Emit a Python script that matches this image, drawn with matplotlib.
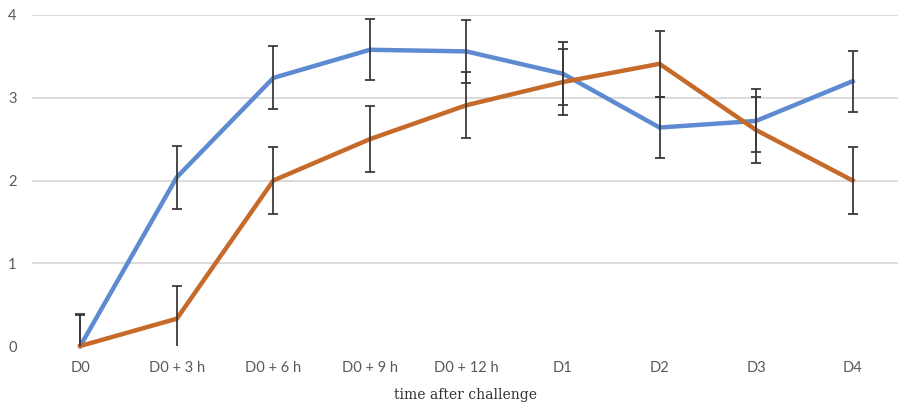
import matplotlib
matplotlib.use("Agg")
import matplotlib.pyplot as plt
import numpy as np

categories = ["D0", "D0 + 3 h", "D0 + 6 h", "D0 + 9 h", "D0 + 12 h", "D1", "D2", "D3", "D4"]
blue_values = [0.0, 2.04, 3.24, 3.58, 3.56, 3.29, 2.64, 2.72, 3.20]
blue_err = [0.38, 0.38, 0.38, 0.37, 0.38, 0.38, 0.37, 0.38, 0.37]
orange_values = [0.0, 0.33, 2.0, 2.50, 2.91, 3.19, 3.41, 2.61, 2.0]
orange_err = [0.39, 0.39, 0.40, 0.40, 0.40, 0.40, 0.40, 0.40, 0.40]
y_ticks = [0, 1, 2, 3, 4]
x_label = "time after challenge"

W, H = 898, 405
fig = plt.figure(figsize=(W / 100, H / 100), dpi=100)
ax = fig.add_axes([32 / W, 1 - 346 / H, (W - 32) / W, (346 - 15) / H])

x = np.arange(len(categories))
blue_c = "#5E8AD2"
orange_c = "#C66A2A"
err_c = "#3a3a3a"

ax.plot(x, blue_values, color=blue_c, lw=3.2, solid_joinstyle="miter", zorder=3, clip_on=False)
ax.plot(x, orange_values, color=orange_c, lw=3.2, solid_joinstyle="miter", zorder=4, clip_on=False)
ax.errorbar(x, blue_values, yerr=blue_err, fmt="none", ecolor=err_c, elinewidth=1.3,
            capsize=3.5, capthick=1.3, zorder=5)
ax.errorbar(x, orange_values, yerr=orange_err, fmt="none", ecolor=err_c, elinewidth=1.3,
            capsize=3.5, capthick=1.3, zorder=5)

ax.set_xlim(-0.5, 8.47)
ax.set_ylim(0, 4)
ax.set_yticks(y_ticks)
ax.set_xticks(x)
ax.set_xticklabels(categories)
for yv in y_ticks[1:]:
    ax.axhline(yv, color="#d9d9d9", lw=1.3, zorder=1)
for s in ax.spines.values():
    s.set_visible(False)
ax.tick_params(axis="both", length=0, labelsize=10.5, labelcolor="#595959")
ax.tick_params(axis="x", pad=11)
ax.tick_params(axis="y", pad=11)
for lab in ax.get_xticklabels() + ax.get_yticklabels():
    lab.set_family(["Lato", "DejaVu Sans"])
ax.set_xlabel(x_label, family="DejaVu Serif", fontsize=10, color="#333333", labelpad=9)

fig.savefig("out.png", dpi=100)
